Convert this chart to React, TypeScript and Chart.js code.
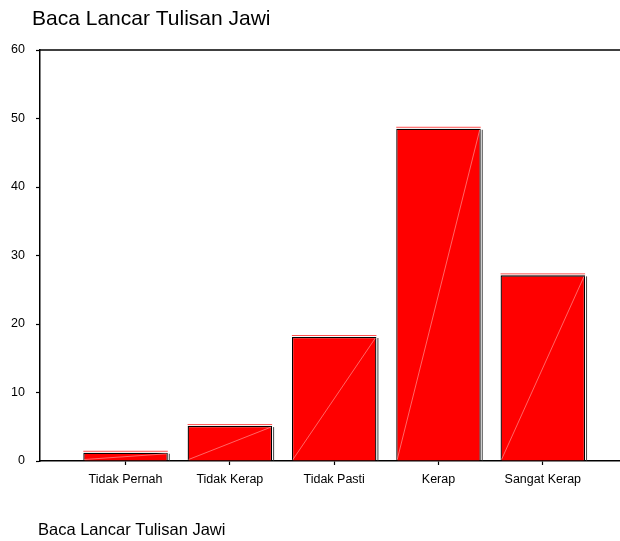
import React, { useEffect, useRef } from "react";
import { Chart, registerables } from "chart.js";

Chart.register(...registerables);

const TITLE = "Baca Lancar Tulisan Jawi";
const FOOTER = "Baca Lancar Tulisan Jawi";
const CATEGORIES = ["Tidak Pernah", "Tidak Kerap", "Tidak Pasti", "Kerap", "Sangat Kerap"];
const VALUES = [1.2, 5.1, 18.1, 48.5, 27.1];
const Y_TICKS = [0, 10, 20, 30, 40, 50, 60];

const FONT = '"Liberation Sans", Arial, sans-serif';

const decorPlugin = {
  id: "decor",
  beforeDraw(chart: any) {
    const ctx = chart.ctx;
    ctx.save();
    ctx.fillStyle = "#fff";
    ctx.fillRect(0, 0, chart.width, chart.height);
    ctx.restore();
  },
  afterDatasetsDraw(chart: any) {
    const ctx = chart.ctx;
    const meta = chart.getDatasetMeta(0);
    ctx.save();
    meta.data.forEach((bar: any) => {
      const { x, y, base, width } = bar.getProps(["x", "y", "base", "width"], true);
      const l = x - width / 2;
      const r = x + width / 2;
      // diagonal highlight
      ctx.strokeStyle = "rgba(255,150,150,0.85)";
      ctx.lineWidth = 0.8;
      ctx.beginPath();
      ctx.moveTo(l + 1, base - 1);
      ctx.lineTo(r - 1, y + 1);
      ctx.stroke();
      // right shadow
      ctx.strokeStyle = "#444";
      ctx.lineWidth = 1;
      ctx.beginPath();
      ctx.moveTo(r + 1.5, y + 1);
      ctx.lineTo(r + 1.5, base);
      ctx.stroke();
      // top highlight
      ctx.strokeStyle = "rgba(255,60,60,0.9)";
      ctx.beginPath();
      ctx.moveTo(l, y - 1.5);
      ctx.lineTo(r, y - 1.5);
      ctx.stroke();
    });
    ctx.restore();
  },
  afterDraw(chart: any) {
    const ctx = chart.ctx;
    const a = chart.chartArea;
    ctx.save();
    ctx.strokeStyle = "#000";
    ctx.lineWidth = 1.5;
    ctx.beginPath();
    ctx.moveTo(a.left, a.top);
    ctx.lineTo(a.right, a.top);
    ctx.stroke();
    ctx.fillStyle = "#000";
    ctx.textBaseline = "alphabetic";
    ctx.textAlign = "left";
    ctx.font = `21px ${FONT}`;
    ctx.fillText(TITLE, 32, 25);
    ctx.font = `16.5px ${FONT}`;
    ctx.fillText(FOOTER, 38, 535);
    ctx.restore();
  },
};

export default function App() {
  const ref = useRef<HTMLCanvasElement | null>(null);
  useEffect(() => {
    if (!ref.current) return;
    const chart = new Chart(ref.current, {
      type: "bar",
      data: {
        datasets: [
          {
            data: VALUES.map((v, i) => ({ x: i, y: v })),
            backgroundColor: "#ff0000",
            borderColor: "#000",
            borderWidth: 1.3,
            borderSkipped: "bottom",
            barPercentage: 0.81,
            categoryPercentage: 1,
          },
        ],
      },
      options: {
        animation: false,
        responsive: false,
        devicePixelRatio: 1,
        layout: { padding: { top: 50, left: 0, right: 0, bottom: 0 } },
        plugins: {
          legend: { display: false },
          title: { display: false },
          tooltip: { enabled: false },
        },
        scales: {
          x: {
            type: "linear",
            min: -0.82,
            max: 4.74,
            offset: false,
            afterFit: (scale: any) => {
              scale.height = 80;
            },
            afterBuildTicks: (scale: any) => {
              scale.ticks = CATEGORIES.map((_, i) => ({ value: i }));
            },
            grid: {
              offset: false,
              drawOnChartArea: false,
              tickLength: 4,
              tickColor: "#000",
              tickWidth: 1.2,
            },
            border: { display: true, color: "#000", width: 1.5 },
            ticks: {
              autoSkip: false,
              maxRotation: 0,
              minRotation: 0,
              padding: 7,
              color: "#000",
              font: { family: FONT, size: 12.5 },
              callback: (v: any) => CATEGORIES[v as number] ?? "",
            },
          },
          y: {
            min: 0,
            max: 60,
            afterFit: (scale: any) => {
              scale.width = 40;
            },
            afterBuildTicks: (scale: any) => {
              scale.ticks = Y_TICKS.map((v) => ({ value: v }));
            },
            grid: {
              drawOnChartArea: false,
              tickLength: 4,
              tickColor: "#000",
              tickWidth: 1.2,
            },
            border: { display: true, color: "#000", width: 1.5 },
            ticks: {
              padding: 11,
              color: "#000",
              font: { family: FONT, size: 12.5 },
            },
          },
        },
      },
      plugins: [decorPlugin],
    } as any);
    return () => chart.destroy();
  }, []);
  return (
    <div style={{ position: "fixed", left: 0, top: 0, width: 620, height: 541, background: "#fff" }}>
      <canvas ref={ref} width={620} height={541} style={{ display: "block", width: 620, height: 541 }} />
    </div>
  );
}
